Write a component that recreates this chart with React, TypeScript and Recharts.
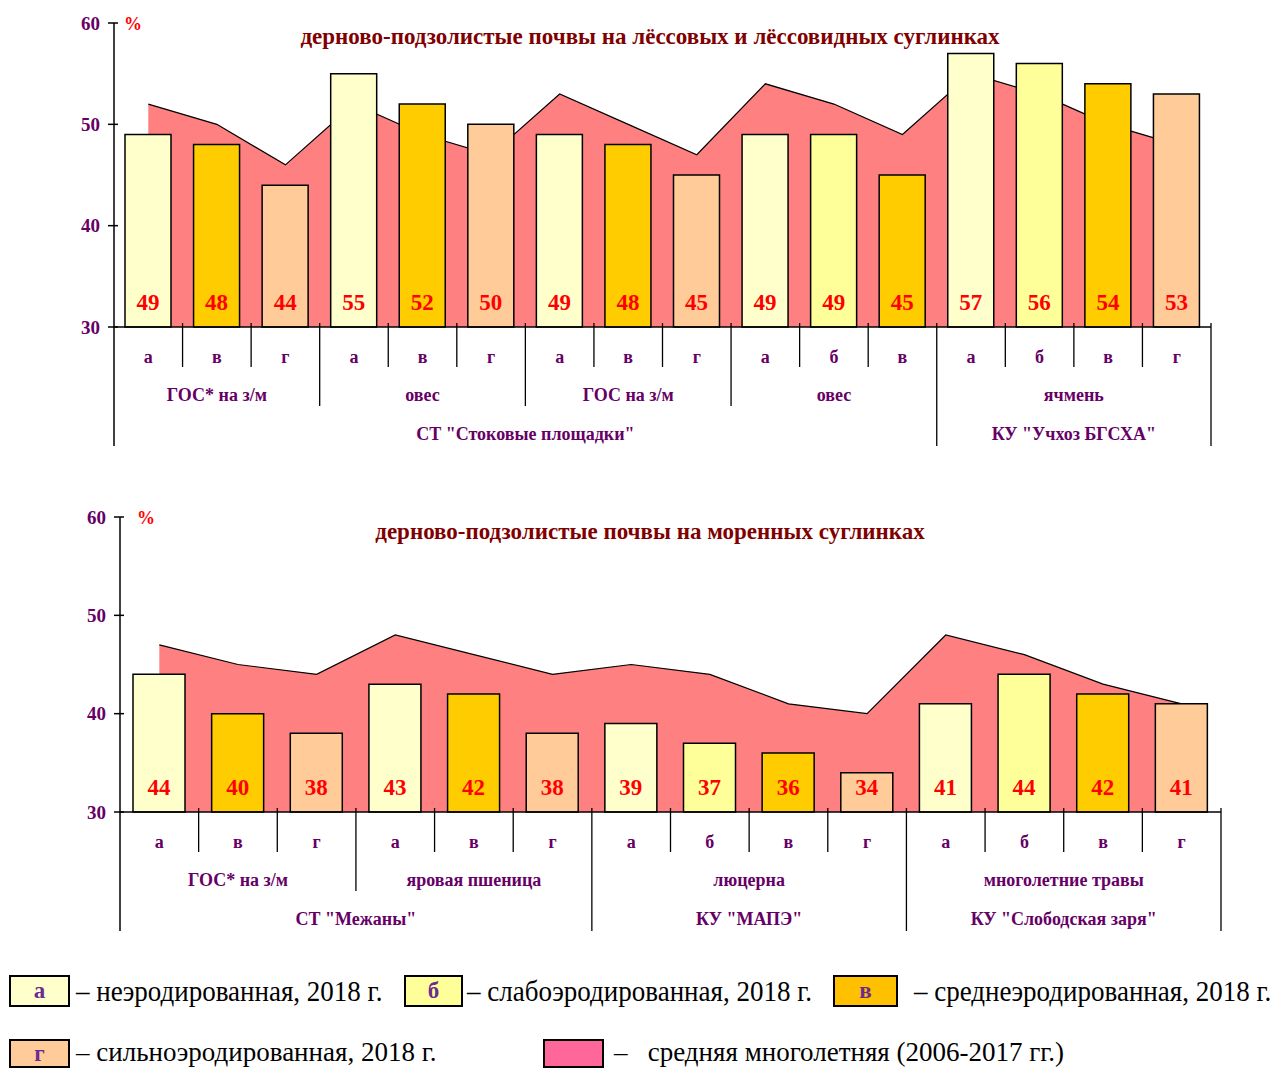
import React from 'react';
import { ComposedChart, Bar, Area, XAxis, YAxis, Cell, LabelList } from 'recharts';

const FONT = '"Liberation Serif", "Times New Roman", Times, serif';
const PURPLE = '#660066';
const DARKRED = '#800000';

// ---------- top panel ----------
const topCategories = ['а', 'в', 'г', 'а', 'в', 'г', 'а', 'в', 'г', 'а', 'б', 'в', 'а', 'б', 'в', 'г'];
const topValues = [49, 48, 44, 55, 52, 50, 49, 48, 45, 49, 49, 45, 57, 56, 54, 53];
const topAverage = [52, 50, 46, 52, 49, 47, 53, 50, 47, 54, 52, 49, 55, 53, 50, 48];
const topGroupLabels = ['ГОС* на з/м', 'овес', 'ГОС на з/м', 'овес', 'ячмень'];
const topGroupSizes = [3, 3, 3, 3, 4];
const topFarmLabels = ['СТ "Стоковые площадки"', 'КУ "Учхоз БГСХА"'];
const topFarmSizes = [12, 4];
const topTitle = 'дерново-подзолистые почвы на лёссовых и лёссовидных суглинках';

// ---------- bottom panel ----------
const bottomCategories = ['а', 'в', 'г', 'а', 'в', 'г', 'а', 'б', 'в', 'г', 'а', 'б', 'в', 'г'];
const bottomValues = [44, 40, 38, 43, 42, 38, 39, 37, 36, 34, 41, 44, 42, 41];
const bottomAverage = [47, 45, 44, 48, 46, 44, 45, 44, 41, 40, 48, 46, 43, 41];
const bottomGroupLabels = ['ГОС* на з/м', 'яровая пшеница', 'люцерна', 'многолетние травы'];
const bottomGroupSizes = [3, 3, 4, 4];
const bottomFarmLabels = ['СТ "Межаны"', 'КУ "МАПЭ"', 'КУ "Слободская заря"'];
const bottomFarmSizes = [6, 4, 4];
const bottomTitle = 'дерново-подзолистые почвы на моренных суглинках';

const yTicks = [30, 40, 50, 60];
const yDomain = [30, 60];

const categoryColors: Record<string, string> = {
  'а': '#FFFFCC',
  'б': '#FFFF99',
  'в': '#FFCC00',
  'г': '#FFCC99',
};
const areaColor = '#FF8080';

const legendItems = [
  { letter: 'а', color: '#FFFFCC', text: '– неэродированная, 2018 г.' },
  { letter: 'б', color: '#FFFF99', text: '– слабоэродированная, 2018 г.' },
  { letter: 'в', color: '#FFC000', text: '– среднеэродированная, 2018 г.' },
  { letter: 'г', color: '#FFCC99', text: '– сильноэродированная, 2018 г.' },
  { letter: '', color: '#FF6699', text: '–\u00A0\u00A0 средняя многолетняя (2006-2017 гг.)' },
];

type PanelProps = {
  top: number;
  height: number;
  plotLeft: number;
  plotRight: number;
  plotTop: number;
  plotBottom: number;
  categories: string[];
  values: number[];
  average: number[];
  groupLabels: string[];
  groupSizes: number[];
  farmLabels: string[];
  farmSizes: number[];
  barSize: number;
  title: string;
  titleY: number;
  percentX: number;
};

const CAT_DEPTH = 40;
const GROUP_DEPTH = 79;
const FARM_DEPTH = 119;
const CAT_LABEL = 30;
const GROUP_LABEL = 68;
const FARM_LABEL = 107;

function starts(sizes: number[]) {
  const res: number[] = [];
  let s = 0;
  sizes.forEach((n) => {
    res.push(s);
    s += n;
  });
  return res;
}

function Panel(p: PanelProps) {
  const W = 1274;
  const n = p.categories.length;
  const band = (p.plotRight - p.plotLeft) / n;
  const data = p.categories.map((c, i) => ({
    key: String(i),
    cat: c,
    value: p.values[i],
    avg: p.average[i],
  }));
  const groupStarts = starts(p.groupSizes);
  const farmStarts = starts(p.farmSizes);
  const groupEnds = groupStarts.map((s, k) => s + p.groupSizes[k] - 1);
  const farmEnds = farmStarts.map((s, k) => s + p.farmSizes[k] - 1);
  const axisY = p.plotBottom - p.top;

  const textStyle = { fontFamily: FONT, fontWeight: 700, fill: PURPLE } as const;

  const XTick = (props: any) => {
    const { x, index } = props;
    const i = index;
    const left = x - band / 2;
    const right = x + band / 2;
    let depth = CAT_DEPTH;
    if (groupEnds.includes(i)) depth = GROUP_DEPTH;
    if (farmEnds.includes(i)) depth = FARM_DEPTH;
    const gk = groupStarts.indexOf(i);
    const fk = farmStarts.indexOf(i);
    return (
      <g>
        <text x={x} y={axisY + CAT_LABEL} textAnchor="middle" dominantBaseline="central" fontSize={18} {...textStyle}>
          {p.categories[i]}
        </text>
        <line x1={right} x2={right} y1={axisY - 4} y2={axisY + depth} stroke="#000" strokeWidth={1.3} />
        {i === 0 && <line x1={left} x2={left} y1={axisY} y2={axisY + FARM_DEPTH} stroke="#000" strokeWidth={1.5} />}
        {gk >= 0 && (
          <text
            x={left + (p.groupSizes[gk] * band) / 2}
            y={axisY + GROUP_LABEL}
            textAnchor="middle"
            dominantBaseline="central"
            fontSize={18}
            {...textStyle}
          >
            {p.groupLabels[gk]}
          </text>
        )}
        {fk >= 0 && (
          <text
            x={left + (p.farmSizes[fk] * band) / 2}
            y={axisY + FARM_LABEL}
            textAnchor="middle"
            dominantBaseline="central"
            fontSize={18}
            {...textStyle}
          >
            {p.farmLabels[fk]}
          </text>
        )}
      </g>
    );
  };

  const YTick = (props: any) => {
    const { y, payload } = props;
    const ax = p.plotLeft;
    return (
      <g>
        <line x1={ax - 6} x2={ax + 4} y1={y} y2={y} stroke="#000" strokeWidth={1.5} />
        <text x={ax - 14} y={y} textAnchor="end" dominantBaseline="central" fontSize={19} {...textStyle}>
          {payload.value}
        </text>
      </g>
    );
  };

  const ValueLabel = (props: any) => {
    const { x, y, width, height, value } = props;
    return (
      <text
        x={x + width / 2}
        y={y + height - 25}
        textAnchor="middle"
        dominantBaseline="central"
        fontFamily={FONT}
        fontWeight={700}
        fontSize={23}
        fill="#FF0000"
      >
        {value}
      </text>
    );
  };

  return (
    <div style={{ position: 'absolute', left: 0, top: p.top, width: W, height: p.height }}>
      <ComposedChart
        width={W}
        height={p.height}
        data={data}
        margin={{ top: p.plotTop - p.top, right: W - p.plotRight, left: 0, bottom: 0 }}
      >
        <XAxis
          dataKey="key"
          type="category"
          interval={0}
          height={p.height - (p.plotBottom - p.top)}
          tickLine={false}
          axisLine={{ stroke: '#000', strokeWidth: 1.5 }}
          tick={XTick}
        />
        <YAxis
          type="number"
          domain={yDomain}
          ticks={yTicks}
          interval={0}
          width={p.plotLeft}
          tickLine={false}
          axisLine={{ stroke: '#000', strokeWidth: 1.5 }}
          tick={YTick}
        />
        <Area
          type="linear"
          dataKey="avg"
          stroke="#000"
          strokeWidth={1.2}
          fill={areaColor}
          fillOpacity={1}
          dot={false}
          activeDot={false}
          isAnimationActive={false}
        />
        <Bar dataKey="value" barSize={p.barSize} stroke="#000" strokeWidth={1.5} isAnimationActive={false}>
          {data.map((d, i) => (
            <Cell key={i} fill={categoryColors[d.cat]} />
          ))}
          <LabelList dataKey="value" content={ValueLabel} isAnimationActive={false} />
        </Bar>
      </ComposedChart>
      <div
        style={{
          position: 'absolute',
          left: 0,
          width: W,
          top: p.titleY - p.top - 15,
          height: 30,
          lineHeight: '30px',
          textAlign: 'center',
          fontFamily: FONT,
          fontWeight: 700,
          fontSize: 23,
          color: DARKRED,
          whiteSpace: 'nowrap',
          paddingLeft: 26,
          boxSizing: 'border-box',
        }}
      >
        {p.title}
      </div>
      <div
        style={{
          position: 'absolute',
          left: p.percentX,
          top: p.plotTop - p.top - 11,
          height: 24,
          lineHeight: '24px',
          fontFamily: FONT,
          fontWeight: 700,
          fontSize: 18,
          color: '#FF0000',
        }}
      >
        %
      </div>
    </div>
  );
}

function LegendBox({ left, top, width, height, color, letter }: any) {
  return (
    <div
      style={{
        position: 'absolute',
        left,
        top,
        width,
        height,
        background: color,
        border: '2px solid #000',
        boxSizing: 'border-box',
        display: 'flex',
        alignItems: 'center',
        justifyContent: 'center',
        fontFamily: FONT,
        fontWeight: 700,
        fontSize: 23,
        lineHeight: '24px',
        color: '#6B2C91',
      }}
    >
      {letter}
    </div>
  );
}

function LegendText({ left, centerY, text, stretch }: any) {
  return (
    <div
      style={{
        position: 'absolute',
        left,
        top: centerY - 14,
        height: 28,
        lineHeight: '28px',
        fontFamily: FONT,
        fontSize: 27,
        color: '#000',
        whiteSpace: 'nowrap',
        transform: stretch ? 'scaleY(1.1)' : undefined,
        transformOrigin: 'left center',
      }}
    >
      {text}
    </div>
  );
}

export default function App() {
  return (
    <div
      style={{
        position: 'absolute',
        left: 0,
        top: 0,
        width: 1274,
        height: 1068,
        overflow: 'hidden',
        background: '#fff',
      }}
    >
      <Panel
        top={0}
        height={460}
        plotLeft={114}
        plotRight={1211}
        plotTop={23}
        plotBottom={327}
        categories={topCategories}
        values={topValues}
        average={topAverage}
        groupLabels={topGroupLabels}
        groupSizes={topGroupSizes}
        farmLabels={topFarmLabels}
        farmSizes={topFarmSizes}
        barSize={46}
        title={topTitle}
        titleY={37}
        percentX={124}
      />
      <Panel
        top={495}
        height={445}
        plotLeft={120}
        plotRight={1221}
        plotTop={517}
        plotBottom={812}
        categories={bottomCategories}
        values={bottomValues}
        average={bottomAverage}
        groupLabels={bottomGroupLabels}
        groupSizes={bottomGroupSizes}
        farmLabels={bottomFarmLabels}
        farmSizes={bottomFarmSizes}
        barSize={52}
        title={bottomTitle}
        titleY={532}
        percentX={137}
      />
      <LegendBox left={9} top={975} width={61} height={32} color={legendItems[0].color} letter={legendItems[0].letter} />
      <LegendText left={76} centerY={991} text={legendItems[0].text} stretch />
      <LegendBox left={404} top={975} width={59} height={32} color={legendItems[1].color} letter={legendItems[1].letter} />
      <LegendText left={467} centerY={991} text={legendItems[1].text} stretch />
      <LegendBox left={833} top={975} width={65} height={32} color={legendItems[2].color} letter={legendItems[2].letter} />
      <LegendText left={914} centerY={991} text={legendItems[2].text} stretch />
      <LegendBox left={9} top={1039} width={61} height={29} color={legendItems[3].color} letter={legendItems[3].letter} />
      <LegendText left={76} centerY={1052} text={legendItems[3].text} />
      <LegendBox left={543} top={1039} width={61} height={29} color={legendItems[4].color} letter={legendItems[4].letter} />
      <LegendText left={614} centerY={1052} text={legendItems[4].text} />
    </div>
  );
}
